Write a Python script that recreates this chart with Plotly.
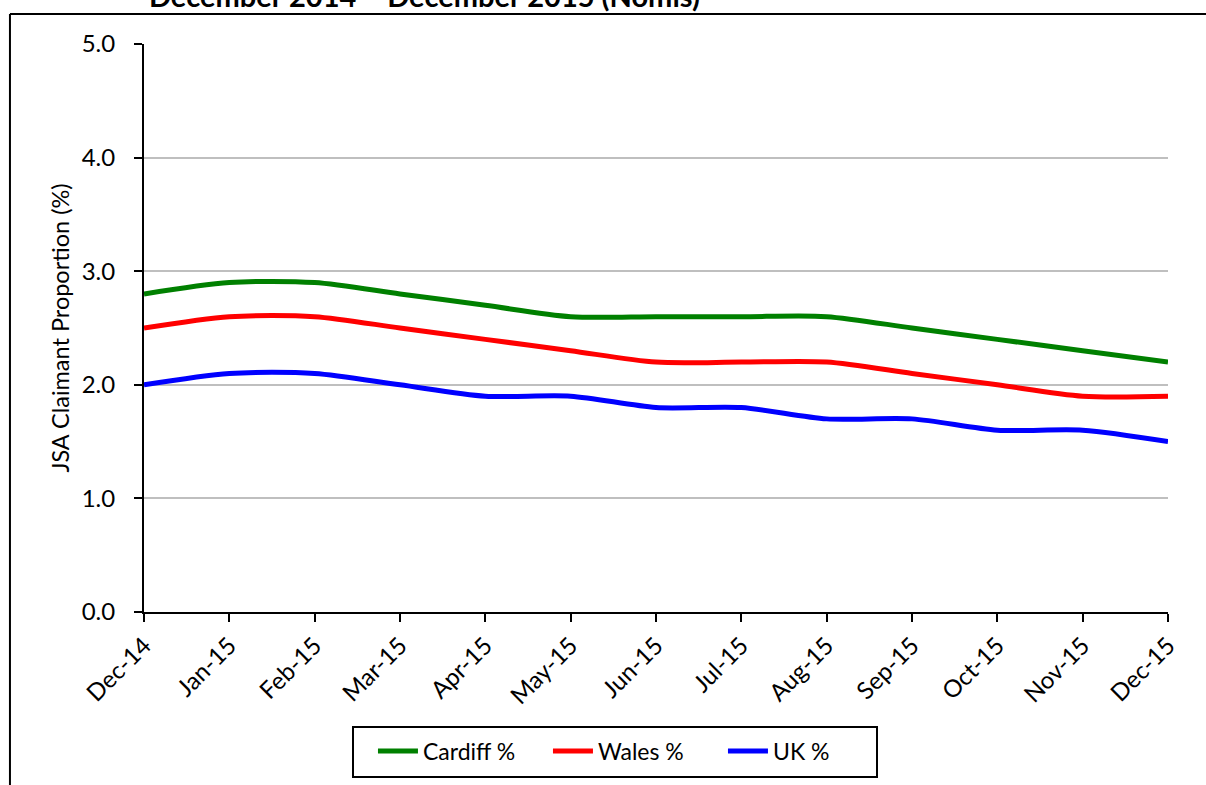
import plotly.graph_objects as go

months = ["Dec-14", "Jan-15", "Feb-15", "Mar-15", "Apr-15", "May-15", "Jun-15",
          "Jul-15", "Aug-15", "Sep-15", "Oct-15", "Nov-15", "Dec-15"]
cardiff = [2.8, 2.9, 2.9, 2.8, 2.7, 2.6, 2.6, 2.6, 2.6, 2.5, 2.4, 2.3, 2.2]
wales = [2.5, 2.6, 2.6, 2.5, 2.4, 2.3, 2.2, 2.2, 2.2, 2.1, 2.0, 1.9, 1.9]
uk = [2.0, 2.1, 2.1, 2.0, 1.9, 1.9, 1.8, 1.8, 1.7, 1.7, 1.6, 1.6, 1.5]
y_ticks = [0, 1, 2, 3, 4, 5]
y_tick_text = ["0.0", "1.0", "2.0", "3.0", "4.0", "5.0"]

FONT = "Lato"
idx = list(range(len(months)))

fig = go.Figure()
for name, vals, col in [("Cardiff %", cardiff, "#008000"),
                        ("Wales %", wales, "#FF0000"),
                        ("UK %", uk, "#0000FF")]:
    fig.add_trace(go.Scatter(x=idx, y=vals, name=name, mode="lines",
                             line=dict(color=col, width=5, shape="spline", smoothing=0.8)))

fig.update_layout(
    width=1206, height=785,
    margin=dict(l=144, r=38, t=44, b=173),
    plot_bgcolor="white", paper_bgcolor="white",
    font=dict(family=FONT, size=24, color="black"),
    showlegend=True,
    legend=dict(orientation="h", x=0.2236, y=-0.2447, xanchor="left", yanchor="middle",
                borderwidth=0, bgcolor="rgba(0,0,0,0)", font=dict(size=23, family=FONT),
                itemwidth=40, entrywidth=120, tracegroupgap=0),
    xaxis=dict(range=[0, 12], tickmode="array", tickvals=idx, ticktext=months,
               tickangle=-45, showline=True, linecolor="black", linewidth=2,
               ticks="outside", ticklen=8, tickwidth=2, tickcolor="black",
               showgrid=False, zeroline=False, tickfont=dict(size=24, family=FONT)),
    yaxis=dict(range=[0, 5], tickmode="array", tickvals=y_ticks, ticktext=y_tick_text,
               showline=True, linecolor="black", linewidth=2,
               ticks="outside", ticklen=8, tickwidth=2, tickcolor="black",
               showgrid=True, gridcolor="#BFBFBF", gridwidth=2, zeroline=False,
               ticklabelstandoff=14,
               title=dict(text="JSA Claimant Proportion (%)", font=dict(size=23.5, family=FONT), standoff=5),
               tickfont=dict(size=24, family=FONT)),
)

# legend box
fig.add_shape(type="rect", xref="paper", yref="paper",
              x0=(353 - 144) / 1024, x1=(877 - 144) / 1024,
              y0=(612 - 777) / 568, y1=(612 - 727) / 568,
              line=dict(color="black", width=2), fillcolor="rgba(0,0,0,0)")

# outer chart frame (left and top edges visible)
fig.add_shape(type="line", xref="paper", yref="paper", x0=-0.1309, x1=-0.1309, y0=1.0528, y1=-0.5,
              line=dict(color="black", width=2))
fig.add_shape(type="line", xref="paper", yref="paper", x0=-0.1309, x1=1.2, y0=1.0528, y1=1.0528,
              line=dict(color="black", width=2))

fig.add_annotation(text="<b>December 2014 – December 2015 (Nomis)</b>", xref="paper", yref="paper",
                   x=0.003, y=(612 - 15) / 568, xanchor="left", yanchor="bottom", showarrow=False,
                   font=dict(size=29, family=FONT, color="black"))

fig.write_html("out.html")
